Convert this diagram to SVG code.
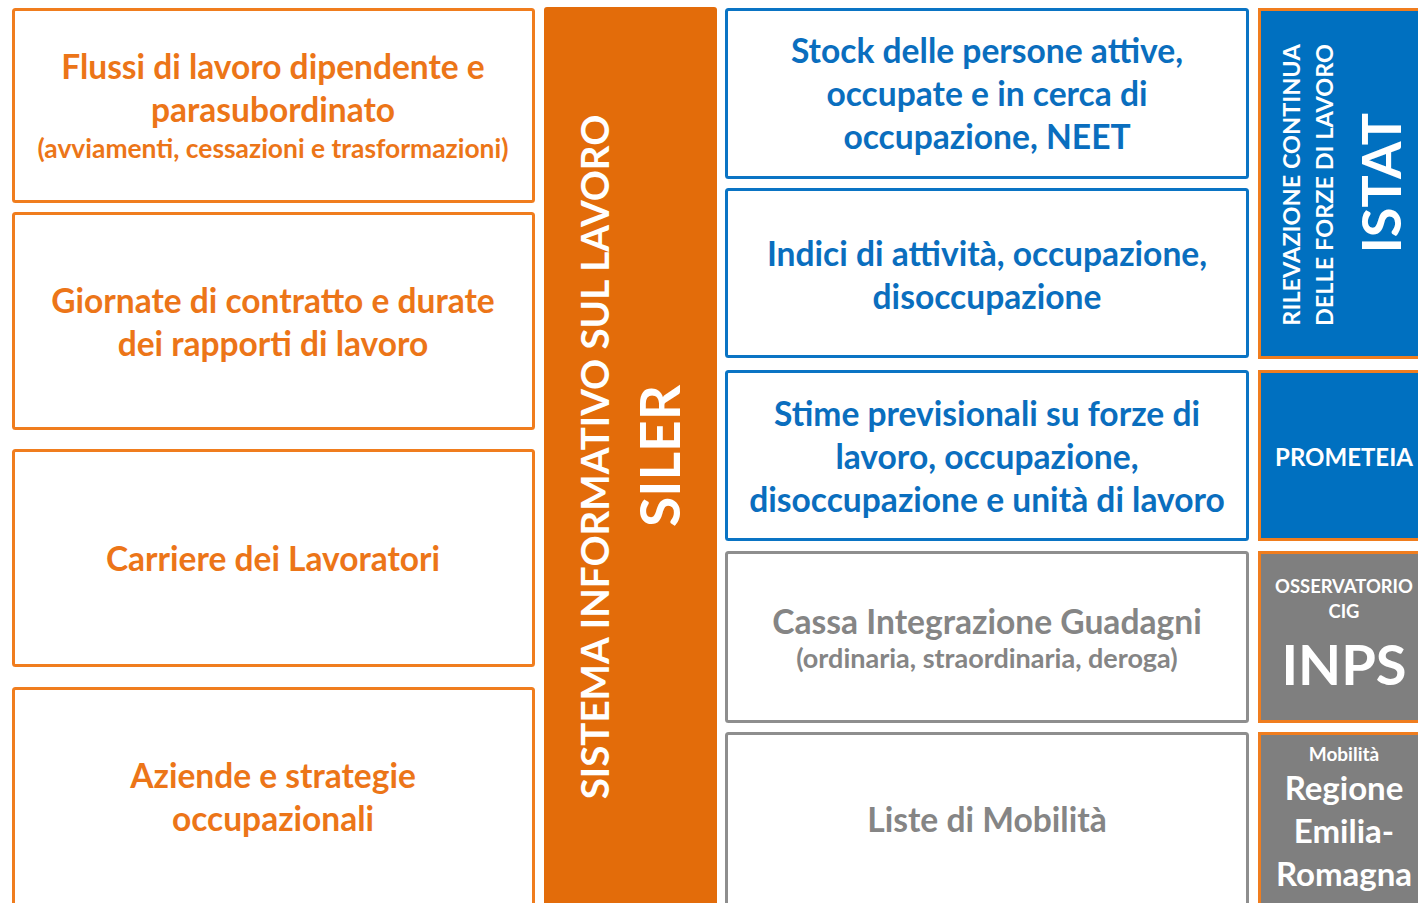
<svg xmlns="http://www.w3.org/2000/svg" width="1418" height="903" viewBox="0 0 1418 903">
<style>
.t{font-family:Lato,"Noto Sans","Liberation Sans",sans-serif;font-weight:bold;text-anchor:middle}
.lb{fill:#fff;stroke:#F07D1E;stroke-width:3}
.mb{fill:#fff;stroke:#0A74C4;stroke-width:3}
.mg{fill:#fff;stroke:#8E8E8E;stroke-width:3}
.ro{fill:#E36C0A}
.rb{fill:#0070C0;stroke:#F07D1E;stroke-width:3}
.rg{fill:#7F7F7F;stroke:#F07D1E;stroke-width:3}
.to{fill:#EC7518}
.tb{fill:#0A6EBE}
.tg{fill:#858585}
.tw{fill:#fff}
.big{font-size:33.5px}
.bigm{font-size:33.6px}
</style>
<rect width="1418" height="903" fill="#fff"/>
<g id="connectors"/>
<g id="flussi">
<rect class="lb" x="13.5" y="9.5" width="520" height="192" rx="2"/>
<text class="t to big" x="273" y="79">Flussi di lavoro dipendente e</text>
<text class="t to big" x="273" y="122">parasubordinato</text>
<text class="t to" x="273" y="158" font-size="26.4">(avviamenti, cessazioni e trasformazioni)</text>
</g>
<g id="giornate">
<rect class="lb" x="13.5" y="213.5" width="520" height="215" rx="2"/>
<text class="t to big" x="273" y="313">Giornate di contratto e durate</text>
<text class="t to big" x="273" y="356">dei rapporti di lavoro</text>
</g>
<g id="carriere">
<rect class="lb" x="13.5" y="450.5" width="520" height="215" rx="2"/>
<text class="t to big" x="273" y="571">Carriere dei Lavoratori</text>
</g>
<g id="aziende">
<rect class="lb" x="13.5" y="688.5" width="520" height="225" rx="2"/>
<text class="t to big" x="273" y="788">Aziende e strategie</text>
<text class="t to big" x="273" y="831">occupazionali</text>
</g>
<g id="siler">
<rect class="ro" x="544" y="7" width="173" height="910" rx="3"/>
<text class="t tw" transform="translate(609,457) rotate(-90)" font-size="38.5">SISTEMA INFORMATIVO SUL LAVORO</text>
<text class="t tw" transform="translate(680,456) rotate(-90)" font-size="55">SILER</text>
</g>
<g id="stock">
<rect class="mb" x="726.5" y="9.5" width="521" height="168" rx="2"/>
<text class="t tb bigm" x="987" y="63">Stock delle persone attive,</text>
<text class="t tb bigm" x="987" y="106">occupate e in cerca di</text>
<text class="t tb bigm" x="987" y="149">occupazione, NEET</text>
</g>
<g id="indici">
<rect class="mb" x="726.5" y="189.5" width="521" height="167" rx="2"/>
<text class="t tb bigm" x="987" y="266">Indici di attività, occupazione,</text>
<text class="t tb bigm" x="987" y="309">disoccupazione</text>
</g>
<g id="stime">
<rect class="mb" x="726.5" y="371.5" width="521" height="168" rx="2"/>
<text class="t tb bigm" x="987" y="426">Stime previsionali su forze di</text>
<text class="t tb bigm" x="987" y="469">lavoro, occupazione,</text>
<text class="t tb bigm" x="987" y="512">disoccupazione e unità di lavoro</text>
</g>
<g id="cassa">
<rect class="mg" x="726.5" y="552.5" width="521" height="169" rx="2"/>
<text class="t tg bigm" x="987" y="634">Cassa Integrazione Guadagni</text>
<text class="t tg" x="987" y="668" font-size="27">(ordinaria, straordinaria, deroga)</text>
</g>
<g id="liste">
<rect class="mg" x="726.5" y="733.5" width="521" height="180" rx="2"/>
<text class="t tg bigm" x="987" y="832">Liste di Mobilità</text>
</g>
<g id="istat">
<rect class="rb" x="1259.5" y="9.5" width="170" height="348"/>
<text class="t tw" transform="translate(1300,185) rotate(-90)" font-size="23.5">RILEVAZIONE CONTINUA</text>
<text class="t tw" transform="translate(1333,185) rotate(-90)" font-size="23.5">DELLE FORZE DI LAVORO</text>
<text class="t tw" transform="translate(1401,183) rotate(-90)" font-size="54">ISTAT</text>
</g>
<g id="prometeia">
<rect class="rb" x="1259.5" y="371.5" width="170" height="168"/>
<text class="t tw" x="1344" y="466" font-size="24">PROMETEIA</text>
</g>
<g id="inps">
<rect class="rg" x="1259.5" y="552.5" width="170" height="169"/>
<text class="t tw" x="1344" y="593" font-size="18.4">OSSERVATORIO</text>
<text class="t tw" x="1344" y="618" font-size="18.4">CIG</text>
<text class="t tw" x="1344" y="685" font-size="56">INPS</text>
</g>
<g id="regione">
<rect class="rg" x="1259.5" y="733.5" width="170" height="180"/>
<text class="t tw" x="1344" y="761" font-size="19">Mobilità</text>
<text class="t tw" x="1344" y="800" font-size="33">Regione</text>
<text class="t tw" x="1344" y="843" font-size="33">Emilia-</text>
<text class="t tw" x="1344" y="886" font-size="33">Romagna</text>
</g>
</svg>
